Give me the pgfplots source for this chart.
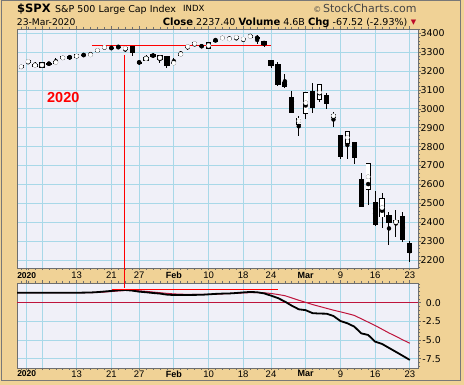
\documentclass[border=0pt]{standalone}
\usepackage{pgfplots}
\pgfplotsset{compat=1.18}
\usepackage{pgfplotstable}
\usepackage{fontspec}
\setmainfont{DejaVu Sans}
\newfontfamily\lib{Liberation Sans}
\definecolor{tanbg}{RGB}{240,210,150}
\definecolor{panelbg}{RGB}{240,240,248}
\definecolor{gridblue}{RGB}{168,216,232}
\definecolor{bordergray}{RGB}{110,110,110}
\definecolor{crimsonl}{RGB}{190,20,60}
\definecolor{framegray}{RGB}{120,120,120}

% hollow candles (close > open): index i (Jan 2 2020 = 0)
\pgfplotstableread{
i O H L C
-1 3215.18 3231.72 3212.03 3230.78
0 3244.67 3258.14 3235.53 3257.85
1 3226.36 3246.15 3222.34 3234.85
2 3217.55 3246.84 3214.64 3246.28
4 3238.59 3267.07 3236.67 3253.05
5 3266.03 3275.58 3263.67 3274.70
7 3271.13 3288.13 3268.43 3288.13
9 3282.27 3298.66 3280.69 3289.29
10 3302.97 3317.11 3302.82 3316.81
11 3323.66 3329.88 3318.86 3329.62
14 3315.77 3326.88 3301.87 3325.54
17 3255.35 3285.78 3253.22 3276.24
19 3256.45 3285.91 3242.80 3283.66
21 3235.66 3268.44 3235.66 3248.92
22 3280.61 3306.92 3280.61 3297.59
23 3324.91 3337.58 3313.75 3334.69
24 3344.92 3347.96 3334.39 3345.78
26 3318.28 3352.26 3317.77 3352.09
28 3370.50 3381.47 3369.72 3379.45
29 3365.90 3385.09 3360.52 3373.94
30 3378.08 3380.69 3366.15 3380.16
31 3369.04 3375.01 3355.61 3370.29
32 3380.39 3393.52 3378.83 3386.15
39 2916.90 2959.72 2855.84 2954.22
40 2974.28 3090.96 2945.19 3090.23
42 3045.75 3130.97 3034.38 3130.12
44 2954.20 2985.93 2901.54 2972.37
46 2813.48 2882.59 2734.00 2882.23
49 2569.99 2711.33 2492.37 2711.02
51 2425.66 2553.93 2367.04 2529.19
53 2393.48 2466.97 2319.78 2409.39
}\upc
% filled candles (close < open)
\pgfplotstableread{
i O H L C
3 3241.86 3244.91 3232.43 3237.18
6 3281.81 3282.99 3260.86 3265.35
8 3285.35 3294.25 3277.19 3283.15
12 3321.03 3329.79 3316.61 3320.79
13 3330.02 3337.77 3320.04 3321.75
15 3333.10 3333.18 3281.53 3295.47
16 3247.16 3258.85 3234.50 3243.63
18 3289.46 3293.47 3271.89 3273.40
20 3282.33 3282.33 3214.68 3225.52
25 3335.54 3341.42 3322.12 3327.71
27 3365.87 3375.63 3352.72 3357.75
33 3380.45 3389.15 3341.02 3373.23
34 3360.50 3360.76 3328.45 3337.75
35 3257.61 3259.81 3214.65 3225.89
36 3238.94 3246.99 3118.77 3128.21
37 3139.90 3182.51 3108.99 3116.39
38 3062.54 3097.07 2977.39 2978.76
41 3096.46 3136.72 2976.63 3003.37
43 3075.70 3083.04 2999.83 3023.94
45 2863.89 2863.89 2734.43 2746.56
47 2825.60 2825.60 2707.22 2741.38
48 2630.86 2660.95 2478.86 2480.64
50 2508.59 2562.98 2380.94 2386.13
52 2436.50 2453.57 2280.52 2398.10
54 2431.94 2453.01 2295.56 2304.92
55 2290.71 2300.73 2191.86 2237.40
}\dnc
% lower panel: black line (b) and crimson line (r)
\pgfplotstableread{
i b r
-1.6 1.34 1.34
-1 1.34 1.34
0 1.34 1.34
1 1.34 1.34
2 1.34 1.34
3 1.34 1.34
4 1.34 1.34
5 1.34 1.34
6 1.34 1.34
7 1.34 1.34
8 1.35 1.34
9 1.37 1.35
10 1.42 1.38
11 1.50 1.43
12 1.58 1.50
13 1.66 1.58
14 1.70 1.64
15 1.62 1.65
16 1.48 1.60
17 1.40 1.52
18 1.30 1.43
19 1.22 1.34
20 1.08 1.25
21 1.03 1.18
22 1.03 1.14
23 1.04 1.12
24 1.05 1.10
25 1.06 1.10
26 1.12 1.12
27 1.18 1.15
28 1.22 1.19
29 1.24 1.23
30 1.30 1.27
31 1.38 1.31
32 1.44 1.35
33 1.40 1.36
34 1.25 1.33
35 0.95 1.24
36 0.62 1.10
37 0.15 0.94
38 -0.40 0.64
39 -0.88 0.33
40 -1.00 0.05
41 -1.40 -0.25
42 -1.45 -0.50
43 -1.47 -0.75
44 -1.78 -1.00
45 -2.45 -1.22
46 -2.75 -1.45
47 -3.20 -1.70
48 -4.10 -2.15
49 -4.32 -2.60
50 -5.21 -3.05
51 -5.52 -3.55
52 -6.05 -4.05
53 -6.58 -4.50
54 -7.12 -4.98
55 -7.66 -5.43
}\ind

\pgfplotsset{
 panel/.style={
  scale only axis, anchor=south west, width=401pt,
  xmin=-1.6, xmax=56.18, clip=false,
  axis background/.style={fill=panelbg},
  axis line style={bordergray, line width=0.9pt},
  xtick={-0.2,2,7,12,16,21,26,31,35,40,45,50,55},
  xticklabels={{\bfseries\fontsize{8.5}{9}\selectfont 2020},,13,21,27,{\bfseries\fontsize{9}{9}\selectfont Feb},10,18,24,{\bfseries\fontsize{9}{9}\selectfont Mar},9,16,23},
  minor xtick={-1,0,...,55},
  grid=major, major grid style={gridblue, line width=0.9pt},
  minor grid style={draw=none},
  tick align=outside, xtick pos=both, ytick pos=right, yticklabel pos=right,
  major tick length=2.5pt, minor tick length=2pt,
  tick style={bordergray, line width=0.7pt},
  xticklabel style={font=\lib\fontsize{9.5}{10}\selectfont, anchor=north, inner sep=0pt},
  /pgf/number format/assume math mode=true,
  /pgf/number format/1000 sep={},
 },
 candle/.style 2 args={#2, only marks, mark=none,
  error bars/.cd, y dir=both, y explicit, error mark=none,
  error bar style={line width=#1, line cap=butt, #2}},
}

\begin{document}
\begin{tikzpicture}
\fill[tanbg] (0pt,0pt) rectangle (464pt,385pt);
\draw[framegray, line width=1pt] (1pt,4pt) rectangle (460pt,384.5pt);

% header
\node[anchor=base west, inner sep=0pt, font=\bfseries\fontsize{11.5}{12}\selectfont] at (17pt,372.5pt) {\$SPX};
\node[anchor=base west, inner sep=0pt, font=\fontsize{9.5}{10}\selectfont] at (55pt,372.7pt) {S\&P 500 Large Cap Index};
\node[anchor=base west, inner sep=0pt, font=\fontsize{8.5}{9}\selectfont] at (183pt,373pt) {INDX};
\node[anchor=base east, inner sep=0pt, font=\fontsize{11}{12}\selectfont, text={rgb,255:red,70;green,70;blue,70}] at (416.7pt,372.7pt) {{\fontsize{8}{9}\selectfont ©}\,StockCharts.com};
\node[anchor=base west, inner sep=0pt, font=\fontsize{9.2}{10}\selectfont] at (16.7pt,359pt) {23-Mar-2020};
\node[anchor=base east, inner sep=0pt, font=\fontsize{9.5}{10}\selectfont] at (407.5pt,359pt) {{\bfseries\fontsize{10}{10}\selectfont Close} 2237.40 {\bfseries\fontsize{10}{10}\selectfont Volume} 4.6B {\bfseries\fontsize{10}{10}\selectfont Chg} -67.52 (-2.93\%)};
\node[anchor=base, inner sep=0pt, font=\fontsize{7}{7}\selectfont, text={rgb,255:red,190;green,10;blue,40}] at (413.5pt,360pt) {▼};

% main price panel
\begin{axis}[panel, at={(17pt,117pt)}, height=239pt,
  ymin=2157.6, ymax=3422.8,
  ytick={2200,2300,...,3400},
  minor ytick={2160,2180,...,3420},
  yticklabel style={font=\fontsize{9.4}{10}\selectfont, anchor=west, inner sep=0pt},
  xticklabel style={yshift=-1.5pt},
]
% wicks
\addplot[candle={1pt}{black}] table[x=i, y expr={0.5*(\thisrow{H}+\thisrow{L})}, y error expr={0.5*(\thisrow{H}-\thisrow{L})}] {\upc};
\addplot[candle={1pt}{black}] table[x=i, y expr={0.5*(\thisrow{H}+\thisrow{L})}, y error expr={0.5*(\thisrow{H}-\thisrow{L})}] {\dnc};
% filled bodies
\addplot[candle={5.2pt}{black}] table[x=i, y expr={0.5*(\thisrow{O}+\thisrow{C})}, y error expr={max(0.5*abs(\thisrow{O}-\thisrow{C}),3)}] {\dnc};
% hollow bodies: outline then white interior
\addplot[candle={5.2pt}{black}] table[x=i, y expr={0.5*(\thisrow{O}+\thisrow{C})}, y error expr={max(0.5*abs(\thisrow{O}-\thisrow{C}),7)}] {\upc};
\addplot[candle={3.6pt}{white}] table[x=i, y expr={0.5*(\thisrow{O}+\thisrow{C})}, y error expr={max(0.5*abs(\thisrow{O}-\thisrow{C}),7)-4.2}] {\upc};
% annotation lines
\addplot[red, line width=1pt] coordinates {(9.2,3338) (35,3338)};
\addplot[red, line width=1pt] coordinates {(13.86,3285) (13.86,2078)};
\node[text=red, font=\lib\bfseries\fontsize{14.5}{15}\selectfont] at (axis cs:5.07,3062) {2020};
\end{axis}

% lower indicator panel
\begin{axis}[panel, at={(17pt,17pt)}, height=85pt,
  ymin=-8.74, ymax=2.64,
  ytick={-7.5,-5,-2.5,0},
  yticklabels={-7.5,-5.0,-2.5,0.0},
  minor ytick={-8.5,-8,...,2.5},
  yticklabel style={font=\fontsize{9.4}{10}\selectfont, anchor=east, inner sep=0pt, xshift=20.5pt},
  xticklabel style={yshift=0pt},
]
\addplot[crimsonl, line width=1pt] coordinates {(-1.6,0) (56.18,0)};
\addplot[crimsonl, line width=1pt] table[x=i, y=r] {\ind};
\addplot[black, line width=1.8pt] table[x=i, y=b] {\ind};
\addplot[red, line width=1pt] coordinates {(12.05,1.79) (36.05,1.79)};
\addplot[red, line width=1pt] coordinates {(13.86,2.64) (13.86,1.97)};
\end{axis}
\end{tikzpicture}
\end{document}
